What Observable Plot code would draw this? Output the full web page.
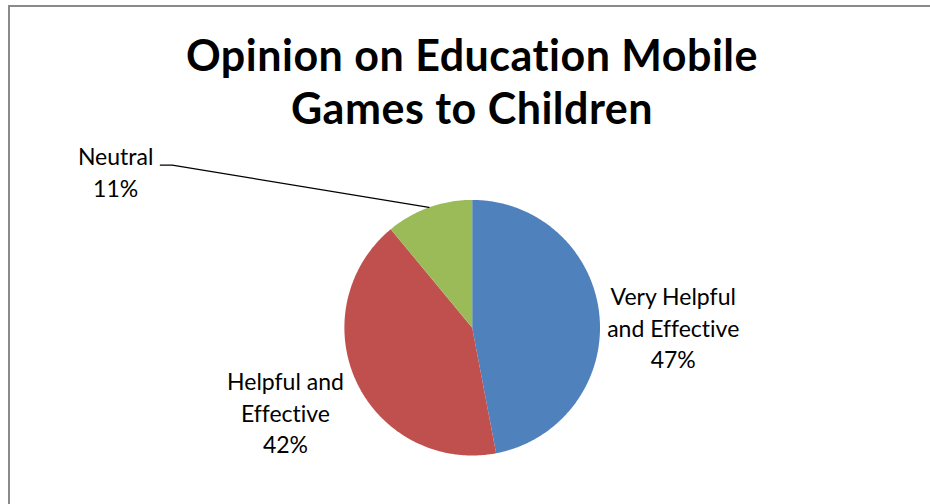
<!DOCTYPE html>
<html>
<head>
<meta charset="utf-8">
<script src="https://cdn.jsdelivr.net/npm/d3@7"></script>
<script src="https://cdn.jsdelivr.net/npm/@observablehq/plot@0.6"></script>
<style>
  html, body { margin: 0; padding: 0; background: #fff; overflow: hidden; }
  #chart { position: relative; width: 930px; height: 504px; overflow: hidden; }
  #frame { position: absolute; left: 8px; top: 5px; width: 1000px; height: 600px;
           border-left: 2px solid #8a8a8a; border-top: 2px solid #8a8a8a; }
  #title { position: absolute; left: 0; top: 27.5px; width: 944px; text-align: center;
           font-family: Lato, "Open Sans", sans-serif; font-weight: bold; font-size: 43px;
           letter-spacing: 0.5px; font-variant-ligatures: none;
           line-height: 53.5px; color: #000; }
  #plot { position: absolute; left: 0; top: 0; }
  #plot text { font-variant-ligatures: none; }
</style>
</head>
<body>
<div id="chart">
  <div id="frame"></div>
  <div id="plot"></div>
  <div id="title">Opinion on Education Mobile<br>Games to Children</div>
</div>
<script>
// ---- data ----
const categories = ["Very Helpful and Effective", "Helpful and Effective", "Neutral"];
const labelTexts = ["Very Helpful\nand Effective", "Helpful and\nEffective", "Neutral"];
const values = [47, 42, 11];
const colors = ["#4F81BD", "#C0504D", "#9BBB59"];

// ---- layout ----
const W = 930, H = 504;
const cx = 471.7, cy = 327.2, R = 127.8;

const total = d3.sum(values);
const arcs = d3.pie().sort(null).value(d => d)(values);

// slice polygons in unit-circle coordinates
const slicePts = [];
arcs.forEach((a, i) => {
  slicePts.push({name: categories[i], x: 0, y: 0});
  const n = Math.max(2, Math.ceil((a.endAngle - a.startAngle) / 0.01));
  for (let k = 0; k <= n; k++) {
    const t = a.startAngle + (a.endAngle - a.startAngle) * k / n;
    slicePts.push({name: categories[i], x: Math.sin(t), y: -Math.cos(t)});
  }
});

// label positions (radial from slice midpoint, with Excel-like nudges)
const radial = [1.58, 1.615, 0];
const nudge = [[0, 0.17], [0, 0], [-2.79, -1.196]];
const labels = arcs.map((a, i) => {
  const m = (a.startAngle + a.endAngle) / 2;
  const txt = labelTexts[i] + "\n" + Math.round(values[i] / total * 100) + "%";
  return {
    text: txt,
    x: radial[i] * Math.sin(m) + nudge[i][0],
    y: -radial[i] * Math.cos(m) + nudge[i][1]
  };
});

// leader line for Neutral
const nm = (arcs[2].startAngle + arcs[2].endAngle) / 2;
const leader = [
  {x: Math.sin(nm), y: -Math.cos(nm)},
  {x: -2.347, y: -1.272},
  {x: -2.44, y: -1.272}
];

const chart = Plot.plot({
  width: W, height: H,
  margin: 0,
  x: {domain: [-1, 1], range: [cx - R, cx + R], axis: null},
  y: {domain: [-1, 1], range: [cy - R, cy + R], axis: null},
  color: {domain: categories, range: colors},
  style: {background: "transparent"},
  marks: [
    Plot.line(slicePts, {x: "x", y: "y", z: "name", fill: "name", stroke: "none", curve: "linear-closed"}),
    Plot.line(leader, {x: "x", y: "y", stroke: "#000", strokeWidth: 1.3}),
    Plot.text(labels, {x: "x", y: "y", text: "text", fontSize: 23, lineHeight: 1.37, dy: -4,
      fontFamily: "Lato, 'Open Sans', sans-serif", fill: "#000", textAnchor: "middle"})
  ]
});
document.getElementById("plot").appendChild(chart);
</script>
</body>
</html>
